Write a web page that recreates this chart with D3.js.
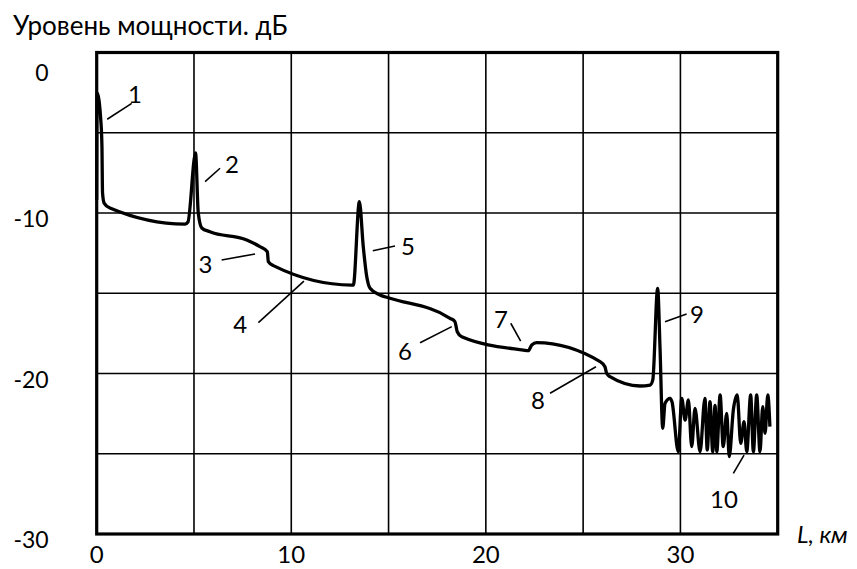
<!DOCTYPE html>
<html>
<head>
<meta charset="utf-8">
<script src="https://cdn.jsdelivr.net/npm/d3@7"></script>
<style>
  html, body { margin: 0; padding: 0; background: #fff; }
  svg { display: block; font-family: Lato, "Noto Sans", sans-serif; }
</style>
</head>
<body>
<div id="chart"></div>
<script>
// trace: distance (km) and power level (dB)
const distKm = [0.00, 0.02, 0.22, 0.27, 0.30, 0.38, 0.68, 4.54, 4.69, 5.08, 5.22, 5.40, 5.82, 7.71, 8.39, 8.77, 8.82, 9.08,
  13.11, 13.19, 13.50, 13.70, 13.88, 14.05, 14.56, 15.07, 18.16, 18.41, 18.53, 18.76, 21.93, 22.18, 22.36, 22.61,
  25.87, 26.12, 26.21, 26.38, 27.92, 28.44, 28.58, 28.83, 28.95, 29.09, 29.21, 29.47, 29.57, 29.89, 30.07, 30.24,
  30.41, 30.58, 30.75, 31.01, 31.26, 31.38, 31.52, 31.66, 31.78, 31.87, 32.04, 32.20, 32.38, 32.51, 32.72, 32.92,
  33.10, 33.27, 33.41, 33.61, 33.75, 33.92, 34.09, 34.23, 34.35, 34.49, 34.60];
const levelDb = [-9.19, -2.52, -4.39, -5.89, -8.75, -9.38, -9.69, -10.69, -10.56, -6.26, -10.00, -10.93, -11.17, -11.68, -12.10, -12.41, -13.03, -13.28,
  -14.49, -14.49, -9.30, -12.10, -13.97, -14.69, -15.11, -15.31, -16.56, -16.77, -17.40, -17.71, -18.54, -18.58, -18.22, -18.08,
  -19.26, -19.58, -19.99, -20.20, -20.78, -20.72, -20.40, -14.69, -18.33, -23.41, -21.86, -21.55, -21.78, -24.87, -21.55, -22.90,
  -21.65, -24.56, -22.17, -24.87, -21.55, -24.77, -21.76, -24.87, -21.98, -24.87, -21.34, -24.56, -22.48, -25.18, -22.27, -21.34,
  -24.35, -23.00, -24.87, -21.34, -24.87, -21.34, -24.87, -22.07, -23.73, -21.34, -23.31];

// axis ticks
const xGridKm = [0, 5, 10, 15, 20, 25, 30, 35];
const yGridDb = [0, -5, -10, -15, -20, -25, -30];
const xTickLabels = [0, 10, 20, 30];
const yTickLabels = [0, -10, -20, -30];

// numbered callouts: label, text anchor (km, dB), leader line ends (km, dB)
const calloutText = ["1", "2", "3", "4", "5", "6", "7", "8", "9", "10"];
const calloutKm = [1.97, 6.95, 5.59, 7.37, 16.00, 15.85, 20.78, 22.68, 30.85, 32.24];
const calloutDb = [-3.15, -7.51, -13.74, -17.48, -12.62, -19.16, -17.17, -22.21, -16.85, -28.38];
const leaderKm1 = [0.54, 5.57, 6.42, 8.31, 14.19, 16.62, 21.28, 23.30, 29.21, 32.72];
const leaderDb1 = [-4.16, -8.05, -12.93, -16.83, -12.35, -18.08, -16.87, -21.23, -16.77, -26.22];
const leaderKm2 = [1.80, 6.34, 8.14, 10.65, 15.33, 18.25, 21.79, 25.66, 30.32, 33.27];
const leaderDb2 = [-3.17, -7.21, -12.55, -14.24, -12.06, -17.08, -17.98, -19.58, -16.29, -25.08];

const W = 857, H = 569;
const margin = { top: 52.5, right: 79.3, bottom: 35, left: 96.7 };
const width = W - margin.left - margin.right;
const height = H - margin.top - margin.bottom;

const svg = d3.select("#chart").append("svg")
  .attr("width", W)
  .attr("height", H);

const g = svg.append("g")
  .attr("transform", `translate(${margin.left},${margin.top})`);

const x = d3.scaleLinear().domain([0, 35]).range([0, width]);
const y = d3.scaleLinear().domain([-30, 0]).range([height, 0]);

// grid
g.selectAll(".vgrid").data(xGridKm).enter().append("line")
  .attr("x1", d => x(d)).attr("x2", d => x(d))
  .attr("y1", 0).attr("y2", height)
  .attr("stroke", "#000").attr("stroke-width", 1.6);

g.selectAll(".hgrid").data(yGridDb).enter().append("line")
  .attr("x1", 0).attr("x2", width)
  .attr("y1", d => y(d)).attr("y2", d => y(d))
  .attr("stroke", "#000").attr("stroke-width", 1.6);

// trace
const points = distKm.map((d, i) => [d, levelDb[i]]);
const line = d3.line()
  .x(d => x(d[0]))
  .y(d => y(d[1]))
  .curve(d3.curveMonotoneX);

g.append("path")
  .datum(points)
  .attr("fill", "none")
  .attr("stroke", "#000")
  .attr("stroke-width", 3.3)
  .attr("stroke-linejoin", "round")
  .attr("d", line);

// frame
g.append("rect")
  .attr("x", 0).attr("y", 0)
  .attr("width", width).attr("height", height)
  .attr("fill", "none")
  .attr("stroke", "#000")
  .attr("stroke-width", 3.2);

// tick labels
g.selectAll(".ylab").data(yTickLabels).enter().append("text")
  .attr("x", -48)
  .attr("y", d => Math.max(y(d) + 6, y(0) + 20))
  .attr("dy", "0.35em")
  .attr("text-anchor", "end")
  .attr("font-size", 23)
  .text(d => d);

g.selectAll(".xlab").data(xTickLabels).enter().append("text")
  .attr("x", d => x(d))
  .attr("y", height + 29)
  .attr("text-anchor", "middle")
  .attr("font-size", 24)
  .text(d => d);

// callouts
g.selectAll(".leader").data(calloutText).enter().append("line")
  .attr("x1", (d, i) => x(leaderKm1[i])).attr("y1", (d, i) => y(leaderDb1[i]))
  .attr("x2", (d, i) => x(leaderKm2[i])).attr("y2", (d, i) => y(leaderDb2[i]))
  .attr("stroke", "#000").attr("stroke-width", 1.6);

g.selectAll(".callout").data(calloutText).enter().append("text")
  .attr("x", (d, i) => x(calloutKm[i]))
  .attr("y", (d, i) => y(calloutDb[i]))
  .attr("text-anchor", "middle")
  .attr("font-size", 24)
  .text(d => d);

// axis titles
svg.append("text")
  .attr("x", 13).attr("y", 35)
  .attr("font-size", 26)
  .text("Уровень мощности. дБ");

svg.append("text")
  .attr("x", 797).attr("y", 543)
  .attr("font-size", 24)
  .attr("font-style", "italic")
  .text("L, км");
</script>
</body>
</html>
